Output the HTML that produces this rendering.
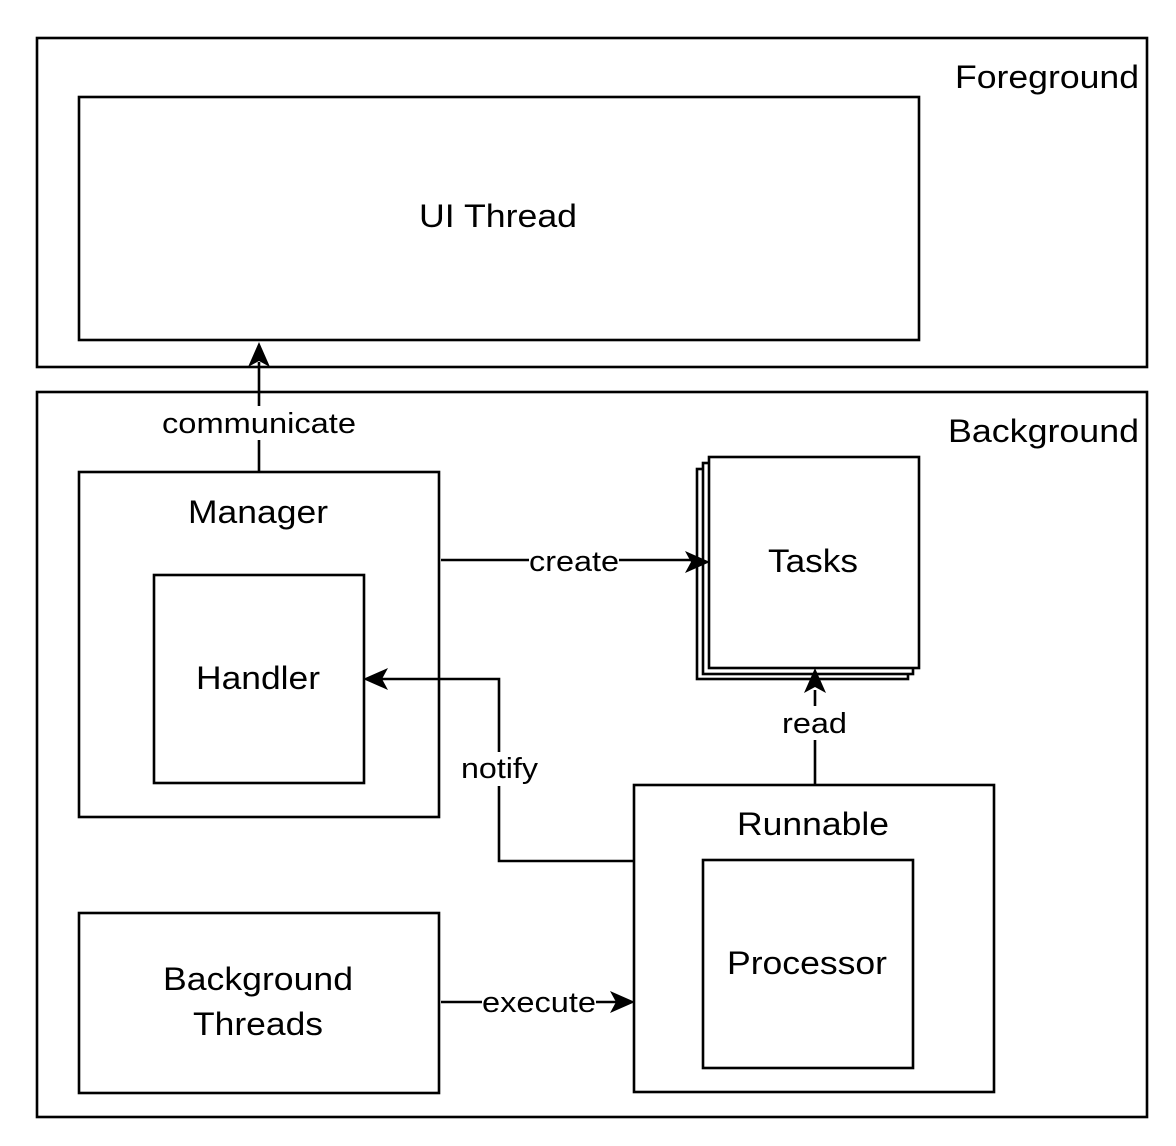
<!DOCTYPE html>
<html><head><style>body{margin:0;background:#fff}svg{display:block}text{font-family:"Liberation Sans",Helvetica,Arial,sans-serif;fill:#000}</style></head>
<body>
<svg width="1176" height="1146" viewBox="0 0 1176 1146" xmlns="http://www.w3.org/2000/svg">
<g fill="none" stroke="#000" stroke-width="2.6">
<rect x="37" y="38" width="1110" height="329"/>
<rect x="79" y="97" width="840" height="243"/>
<rect x="37" y="392" width="1110" height="725"/>
<rect x="79" y="472" width="360" height="345"/>
<rect x="154" y="575" width="210" height="208"/>
<rect x="697" y="469" width="211" height="210" fill="#fff"/>
<rect x="703" y="463" width="210" height="211" fill="#fff"/>
<rect x="709" y="457" width="210" height="211" fill="#fff"/>
<rect x="634" y="785" width="360" height="307"/>
<rect x="703" y="860" width="210" height="208"/>
<rect x="79" y="913" width="360" height="180"/>
<path d="M259 472V362"/>
<path d="M441 560H695"/>
<path d="M815 784V690"/>
<path d="M633 861H499V679H380"/>
<path d="M441 1002H620"/>
</g>
<g fill="#000">
<path d="M259 342l-11 25 11-6 11 6z"/>
<path d="M710 562l-25-11 6 11-6 11z"/>
<path d="M815 668l-11 25 11-6 11 6z"/>
<path d="M363 679l25-11-6 11 6 11z"/>
<path d="M635 1002l-25-11 6 11-6 11z"/>
</g>
<g fill="#fff">
<rect x="162" y="406" width="194" height="34"/>
<rect x="529" y="547" width="90" height="28"/>
<rect x="782" y="706" width="65" height="34"/>
<rect x="461" y="752" width="77" height="34"/>
<rect x="482" y="988" width="114" height="28"/>
</g>
<g font-size="32">
<text x="955" y="88" textLength="184" lengthAdjust="spacingAndGlyphs">Foreground</text>
<text x="419" y="227" textLength="158" lengthAdjust="spacingAndGlyphs">UI Thread</text>
<text x="948" y="442" textLength="191" lengthAdjust="spacingAndGlyphs">Background</text>
<text x="188" y="523" textLength="140" lengthAdjust="spacingAndGlyphs">Manager</text>
<text x="196" y="689" textLength="124" lengthAdjust="spacingAndGlyphs">Handler</text>
<text x="768" y="572" textLength="90" lengthAdjust="spacingAndGlyphs">Tasks</text>
<text x="737" y="835" textLength="152" lengthAdjust="spacingAndGlyphs">Runnable</text>
<text x="727" y="974" textLength="160" lengthAdjust="spacingAndGlyphs">Processor</text>
<text x="163" y="990" textLength="190" lengthAdjust="spacingAndGlyphs">Background</text>
<text x="193" y="1035" textLength="130" lengthAdjust="spacingAndGlyphs">Threads</text>
</g>
<g font-size="29">
<text x="162" y="433" textLength="194" lengthAdjust="spacingAndGlyphs">communicate</text>
<text x="529" y="571" textLength="90" lengthAdjust="spacingAndGlyphs">create</text>
<text x="782" y="733" textLength="65" lengthAdjust="spacingAndGlyphs">read</text>
<text x="461" y="778" textLength="77" lengthAdjust="spacingAndGlyphs">notify</text>
<text x="482" y="1012" textLength="114" lengthAdjust="spacingAndGlyphs">execute</text>
</g>
</svg>
</body></html>
